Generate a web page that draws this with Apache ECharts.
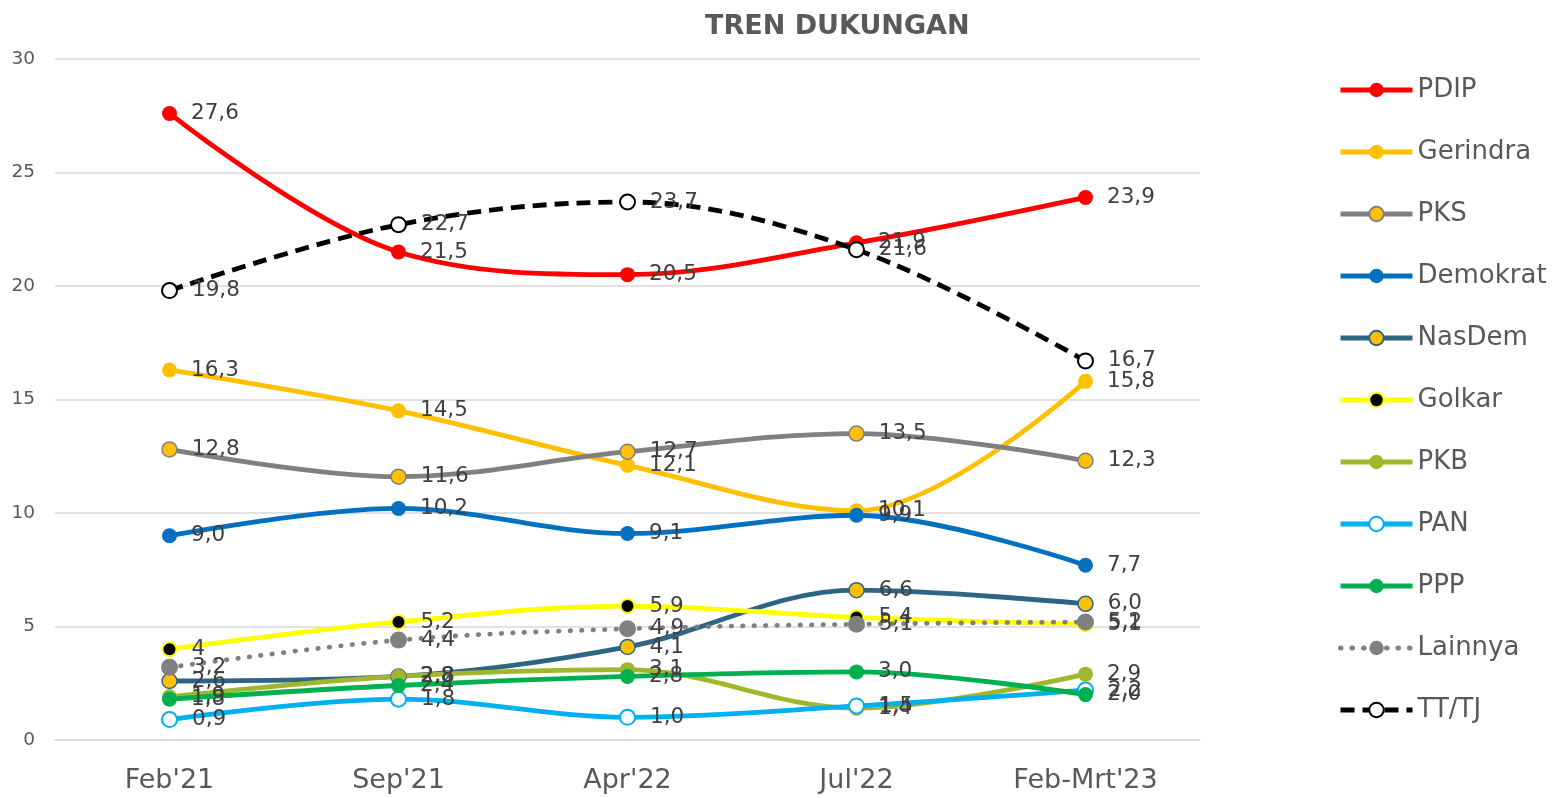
<!DOCTYPE html>
<html>
<head>
<meta charset="utf-8">
<script src="https://cdn.jsdelivr.net/npm/echarts@6/dist/echarts.min.js"></script>
<style>html,body{margin:0;padding:0;background:#fff;}#c{width:1568px;height:798px;}</style>
</head>
<body>
<div id="c"></div>
<script>
const categories = ["Feb'21", "Sep'21", "Apr'22", "Jul'22", "Feb-Mrt'23"];
const yTicks = [0, 5, 10, 15, 20, 25, 30];
const pdip     = ['27.6', '21.5', '20.5', '21.9', '23.9'];
const gerindra = ['16.3', '14.5', '12.1', '10.1', '15.8'];
const pks      = ['12.8', '11.6', '12.7', '13.5', '12.3'];
const demokrat = ['9.0', '10.2', '9.1', '9.9', '7.7'];
const nasdem   = ['2.6', '2.8', '4.1', '6.6', '6.0'];
const golkar   = ['4', '5.2', '5.9', '5.4', '5.1'];
const pkb      = ['1.9', '2.8', '3.1', '1.4', '2.9'];
const pan      = ['0.9', '1.8', '1.0', '1.5', '2.2'];
const ppp      = ['1.8', '2.4', '2.8', '3.0', '2.0'];
const lainnya  = ['3.2', '4.4', '4.9', '5.1', '5.2'];
const tttj     = ['19.8', '22.7', '23.7', '21.6', '16.7'];

const FONT = 'DejaVu Sans';
function mk(name, data, color, opts) {
  opts = opts || {};
  return {
    name: name,
    type: 'line',
    data: data,
    smooth: 0.35,
    symbol: 'circle',
    symbolSize: opts.size || 15,
    lineStyle: { color: color, width: 4.8, type: opts.dash || 'solid', cap: opts.cap || 'butt' },
    itemStyle: { color: opts.fill || color, borderColor: opts.border || color, borderWidth: opts.bw || 0 },
    label: {
      show: true, position: 'right', distance: 14,
      fontFamily: FONT, fontSize: 21.5, color: '#404040',
      formatter: function (p) { return String(p.data).replace('.', ','); }
    },
    emphasis: { disabled: true }
  };
}

const chart = echarts.init(document.getElementById('c'), null, { renderer: 'canvas' });
chart.setOption({
  animation: false,
  backgroundColor: '#ffffff',
  title: {
    text: 'TREN DUKUNGAN', left: 700, top: 8,
    textStyle: { fontFamily: FONT, fontSize: 27, fontWeight: 'bold', color: '#595959' }
  },
  legend: {
    orient: 'vertical', left: 1333, top: 68,
    itemWidth: 72, itemHeight: 18, itemGap: 28,
    lineStyle: { width: 5 },
    textStyle: { fontFamily: FONT, fontSize: 26, color: '#595959', lineHeight: 34 },
    data: ['PDIP', 'Gerindra', 'PKS', 'Demokrat', 'NasDem', 'Golkar', 'PKB', 'PAN', 'PPP', 'Lainnya', 'TT/TJ']
  },
  grid: { left: 55, right: 368, top: 59, bottom: 58, containLabel: false },
  xAxis: {
    type: 'category', data: categories, boundaryGap: true,
    axisLine: { show: true, lineStyle: { color: '#d9d9d9', width: 1.5 } },
    axisTick: { show: false },
    axisLabel: { fontFamily: FONT, fontSize: 27, color: '#595959', margin: 27 }
  },
  yAxis: {
    type: 'value', min: yTicks[0], max: yTicks[yTicks.length - 1], interval: 5,
    axisLine: { show: false }, axisTick: { show: false },
    splitLine: { lineStyle: { color: '#d9d9d9', width: 1.5 } },
    axisLabel: { fontFamily: FONT, fontSize: 18.5, color: '#595959', margin: 20 }
  },
  series: [
    mk('PDIP', pdip, '#FF0000'),
    mk('Gerindra', gerindra, '#FFC000'),
    mk('PKS', pks, '#808080', { fill: '#FFC000', border: '#808080', bw: 1.5 }),
    mk('Demokrat', demokrat, '#0070C0'),
    mk('NasDem', nasdem, '#2F6584', { fill: '#FFC000', border: '#2F6584', bw: 1.5 }),
    mk('Golkar', golkar, '#FFFF00', { fill: '#000000', border: '#FFFF00', bw: 2, size: 14 }),
    mk('PKB', pkb, '#A0B62B'),
    mk('PAN', pan, '#00B0F0', { fill: '#ffffff', border: '#00B0F0', bw: 2 }),
    mk('PPP', ppp, '#00B050'),
    mk('Lainnya', lainnya, '#808080', { dash: [0.5, 11], cap: 'round', size: 17 }),
    mk('TT/TJ', tttj, '#000000', { dash: [14, 8], fill: '#ffffff', border: '#000000', bw: 2 })
  ]
});
</script>
</body>
</html>
